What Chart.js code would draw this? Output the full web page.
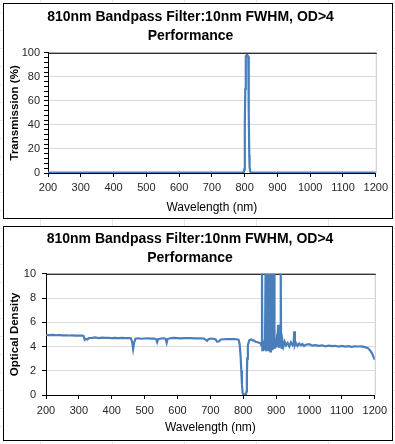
<!DOCTYPE html>
<html lang="en">
<head>
<meta charset="UTF-8">
<title>810nm Bandpass Filter Performance</title>
<script src="https://cdn.jsdelivr.net/npm/chart.js"></script>
<style>
    body {
        margin: 0;
        width: 395px;
        height: 444px;
        overflow: hidden;
        background-color: #fff;
        background-image: linear-gradient(to right, #e6e6e6 1px, transparent 1px),
                          linear-gradient(to bottom, #e6e6e6 1px, transparent 1px);
        background-size: 72px 18px;
        background-position: 40px 12px;
    }
    .box {
        position: absolute;
        left: 3px;
        width: 388px;
        border: 1px solid #000;
        background: #fff;
    }
    #box1 { top: 3px; height: 214px; }
    #box2 { top: 226px; height: 213px; }
</style>
</head>
<body>
<div class="box" id="box1"><canvas id="transChart"></canvas></div>
<div class="box" id="box2"><canvas id="odChart"></canvas></div>

<script>
// chart title (two lines, as in the spreadsheet)
var titleLines = ['810nm Bandpass Filter:10nm FWHM, OD>4', 'Performance'];

// transmission curve (%)
var transWl  = [200, 300, 400, 500, 600, 700, 790, 797, 799, 800, 801, 802, 803, 804, 806, 808, 810, 811, 812, 813, 814, 815, 817, 820, 900, 1000, 1100, 1200];
var transPct = [0.3, 0.3, 0.3, 0.3, 0.3, 0.3, 0.3, 0.4, 3,   38,  42,  70,  92,  97,  98,  98,  98,  97,  90,  50,  15,  5,   1,   0.3, 0.3, 0.3,  0.3,  0.3];

// optical density curve
var odWl  = [200, 210, 220, 230, 240, 250, 260, 270, 280, 290, 300, 310, 314, 318, 322, 326, 330, 340, 350, 360,
             370, 380, 390, 400, 410, 420, 430, 440, 450, 458, 462, 465, 468, 472, 480, 490, 500, 510, 520, 530,
             535, 538, 541, 550, 560, 564, 567, 570, 580, 590, 600, 610, 620, 630, 640, 650, 660, 670, 680, 686,
             690, 694, 700, 710, 716, 720, 726, 732, 740, 750, 760, 770, 780, 786, 789, 792, 794, 796, 798, 800,
             808, 810, 811, 812, 814, 818, 824, 830, 838, 846, 852, 855, 857, 858, 860, 862, 864, 866, 868, 869,
             871, 872, 874, 875, 876, 878, 879, 881, 882, 884, 885, 886, 888, 889, 891, 892, 894, 895, 897, 899,
             901, 903, 906, 908, 910, 913, 914, 915, 917, 919, 922, 926, 930, 935, 940, 945, 950, 953, 955, 957,
             960, 965, 970, 975, 980, 985, 990, 1000, 1010, 1020, 1030, 1040, 1050, 1060, 1070, 1080, 1090, 1100, 1110, 1120,
             1130, 1140, 1150, 1160, 1170, 1180, 1188, 1194, 1200];
var odVal = [4.95, 4.94, 4.96, 4.93, 4.94, 4.92, 4.93, 4.91, 4.92, 4.90, 4.91, 4.90, 4.88, 4.55, 4.62, 4.58, 4.70, 4.72, 4.75, 4.70,
             4.73, 4.71, 4.72, 4.70, 4.72, 4.70, 4.71, 4.69, 4.70, 4.68, 4.40, 3.80, 4.30, 4.65, 4.68, 4.64, 4.66, 4.68, 4.65, 4.66,
             4.60, 4.35, 4.60, 4.66, 4.67, 4.62, 4.30, 4.62, 4.70, 4.72, 4.70, 4.68, 4.70, 4.69, 4.70, 4.68, 4.67, 4.68, 4.66, 4.55,
             4.48, 4.60, 4.66, 4.64, 4.58, 4.40, 4.42, 4.58, 4.60, 4.62, 4.61, 4.62, 4.60, 4.55, 4.20, 3.20, 2.00, 0.90, 0.20, 0.05,
             0.05, 0.30, 1.50, 3.00, 4.10, 4.50, 4.58, 4.52, 4.40, 4.33, 4.28, 4.10, 10.5, 3.70, 4.50, 3.80, 4.40, 3.70, 11.0, 3.60,
             10.5, 3.80, 4.60, 11.0, 3.70, 10.5, 3.90, 11.0, 3.60, 4.80, 10.5, 3.80, 11.0, 3.70, 10.5, 4.00, 11.0, 3.80, 4.60, 3.90,
             4.40, 4.00, 5.80, 3.90, 4.30, 4.00, 11.0, 4.20, 3.80, 4.50, 4.00, 4.40, 4.10, 4.30, 4.00, 4.35, 4.10, 4.20, 5.25, 4.10,
             4.30, 4.05, 4.25, 4.10, 4.20, 4.05, 4.15, 4.20, 4.08, 4.12, 4.05, 4.10, 4.02, 4.08, 4.04, 4.06, 4.00, 4.05, 4.00, 4.03,
             3.98, 4.02, 4.00, 4.01, 3.95, 3.85, 3.60, 3.30, 2.90];

// x axis ticks
var wlMin = 200, wlMax = 1200, wlStep = 100;

Chart.defaults.font.family = '"Liberation Sans", Arial, sans-serif';
Chart.defaults.color = '#262626';

function toPoints(xs, ys) {
    return xs.map(function (x, i) { return { x: x, y: ys[i] }; });
}

// black top edge and light right edge of the plot area
var plotFrame = {
    id: 'plotFrame',
    beforeDatasetsDraw: function (chart) {
        var a = chart.chartArea, c = chart.ctx;
        c.save();
        c.lineWidth = 1;
        c.strokeStyle = '#c8c8c8';
        c.beginPath();
        c.moveTo(a.right + 0.5, a.top);
        c.lineTo(a.right + 0.5, a.bottom);
        c.stroke();
        c.strokeStyle = '#000';
        c.beginPath();
        c.moveTo(a.left, a.top + 0.5);
        c.lineTo(a.right + 1, a.top + 0.5);
        c.stroke();
        c.restore();
    }
};

function makeChart(id, pts, opt) {
    return new Chart(document.getElementById(id), {
        type: 'line',
        data: {
            datasets: [{
                data: pts,
                borderColor: '#4a7ebb',
                borderWidth: 2.2,
                pointRadius: 0,
                tension: 0,
                fill: false
            }]
        },
        plugins: [plotFrame],
        options: {
            responsive: true,
            maintainAspectRatio: false,
            animation: false,
            layout: { padding: { left: 0, right: opt.padRight, top: 0, bottom: 0 } },
            plugins: {
                legend: { display: false },
                tooltip: { enabled: false },
                title: {
                    display: true,
                    text: titleLines,
                    color: '#000',
                    font: { size: 14, weight: 'bold', lineHeight: 1.35 },
                    padding: { top: opt.titleTop, bottom: opt.titleBottom }
                }
            },
            scales: {
                x: {
                    type: 'linear',
                    min: wlMin,
                    max: wlMax,
                    afterFit: function (s) { s.height = 45; },
                    ticks: {
                        stepSize: wlStep,
                        autoSkip: false,
                        maxRotation: 0,
                        font: { size: 11 },
                        padding: opt.xPad,
                        callback: function (v) { return String(v); }
                    },
                    grid: { drawOnChartArea: false, tickLength: 4, tickColor: '#000' },
                    border: { color: '#000', width: 1 },
                    title: { display: true, text: 'Wavelength (nm)', color: '#000', font: { size: 12 }, padding: { top: 0, bottom: opt.xTitleBottom } }
                },
                y: {
                    min: 0,
                    max: opt.yMax,
                    afterFit: function (s) { s.width = opt.yWidth; },
                    ticks: {
                        stepSize: opt.yStep,
                        autoSkip: false,
                        font: { size: 11 },
                        padding: opt.yPad,
                        callback: function (v) { return v % opt.yMajor === 0 ? String(v) : ''; }
                    },
                    grid: {
                        tickLength: 4,
                        tickColor: '#000',
                        color: function (ctx) { return ctx.tick.value % opt.yMajor === 0 ? '#d9d9d9' : 'rgba(0,0,0,0)'; }
                    },
                    border: { color: '#000', width: 1 },
                    title: { display: true, text: opt.yTitle, color: '#000', font: { size: 11.5, weight: 'bold' }, padding: { top: 4, bottom: 0 } }
                }
            }
        }
    });
}

makeChart('transChart', toPoints(transWl, transPct), {
    padRight: 15, titleTop: 4, titleBottom: 7, xPad: 4, xTitleBottom: 3,
    yMax: 100, yStep: 4, yMajor: 20, yWidth: 44, yPad: 4, yTitle: 'Transmission (%)'
});

makeChart('odChart', toPoints(odWl, odVal), {
    padRight: 16, titleTop: 3, titleBottom: 6, xPad: 5, xTitleBottom: 5,
    yMax: 10, yStep: 2, yMajor: 2, yWidth: 42, yPad: 6, yTitle: 'Optical Density'
});
</script>
</body>
</html>
